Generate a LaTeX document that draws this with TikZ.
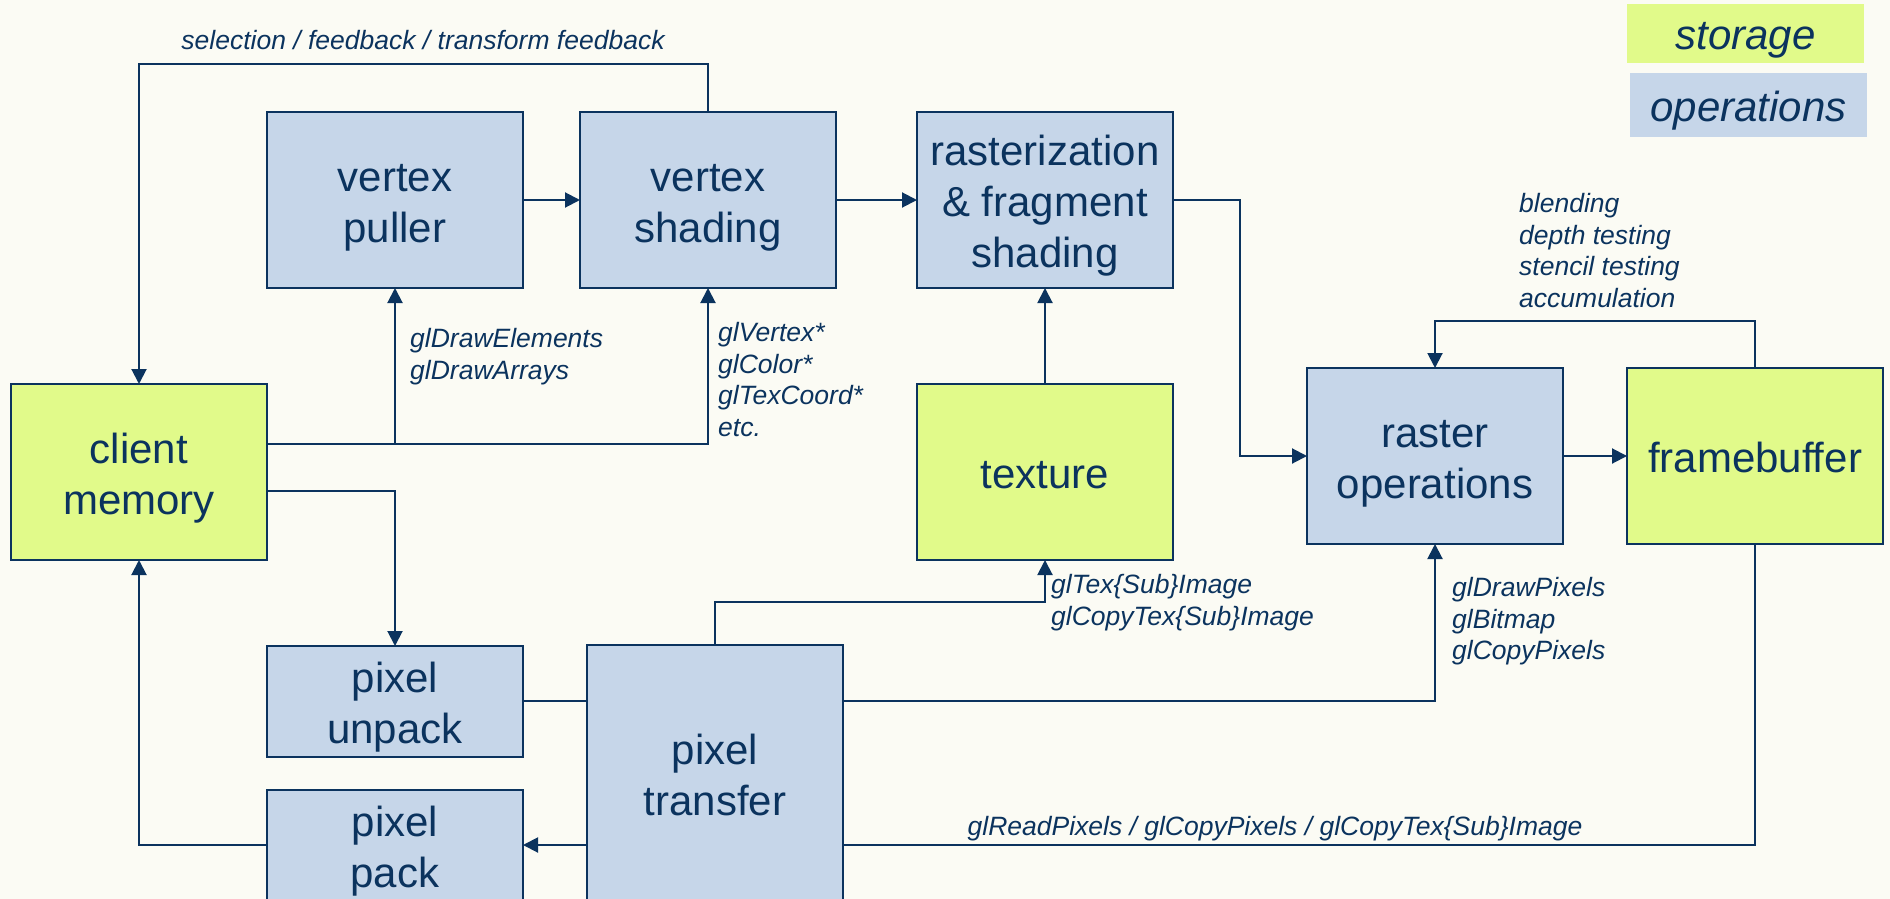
\documentclass[tikz,border=0pt]{standalone}
\usepackage{fontspec}
\setmainfont{Liberation Sans}
\usetikzlibrary{arrows.meta}

\definecolor{ink}{HTML}{0B335E}
\definecolor{opfill}{HTML}{C6D6E9}
\definecolor{stfill}{HTML}{E1FA8A}
\definecolor{paper}{HTML}{FBFBF4}

% fonts for boxes and for the italic call labels
\newcommand\boxfont{\fontsize{42}{51}\selectfont\lineskiplimit=-100pt\relax}
\newcommand\lblfont{\fontsize{26.5}{31.8}\selectfont\itshape}
% struts that fix the vertical placement of text lines
\newcommand\bst{\rule[-10pt]{0pt}{53pt}}
\newcommand\lst{\rule[-8pt]{0pt}{28pt}}

\begin{document}
\begin{tikzpicture}[x=1pt,y=-1pt,
  box/.style={draw=ink, line width=2.4pt, inner sep=0pt, outer sep=0pt,
              minimum width=256pt, align=center, text=ink, font=\boxfont},
  opbox/.style={box, fill=opfill},
  stbox/.style={box, fill=stfill},
  key/.style={inner sep=0pt, outer sep=0pt, minimum width=237pt,
              text=ink, font=\boxfont\itshape},
  lbl/.style={inner sep=0pt, anchor=north west, align=left, text=ink, font=\lblfont},
  conn/.style={draw=ink, line width=2pt},
  arr/.style={-{Triangle[length=15pt,width=15pt]}}]

\fill[paper] (0,0) rectangle (1890,899);
\useasboundingbox (0,0) rectangle (1890,899);

% legend
\node[key, fill=stfill, minimum height=59pt] (kst) at (1745.5,33.5) {\bst storage};
\node[key, fill=opfill, minimum height=64pt] (kop) at (1748.5,105) {\bst operations};

% pipeline stages
\node[opbox, minimum height=176pt] (vp) at (395,200)  {\bst vertex\\\bst puller};
\node[opbox, minimum height=176pt] (vs) at (708,200)  {\bst vertex\\\bst shading};
\node[opbox, minimum height=176pt] (rf) at (1045,200) {\bst rasterization\\\bst \& fragment\\\bst shading};
\node[stbox, minimum height=176pt] (cm) at (139,472)  {\bst client\\\bst memory};
\node[stbox, minimum height=176pt] (tex) at (1045,472) {\bst texture};
\node[opbox, minimum height=176pt] (ro) at (1435,456) {\bst raster\\\bst operations};
\node[stbox, minimum height=176pt] (fb) at (1755,456) {\bst framebuffer};
\node[opbox, minimum height=111pt] (pu) at (395,701.5) {\bst pixel\\\bst unpack};
\node[opbox, minimum height=111pt] (pp) at (395,845.5) {\bst pixel\\\bst pack};
\node[opbox, minimum height=257pt] (pt) at (715,773.5) {\bst pixel\\\bst transfer};

% routing levels
\coordinate (ytop) at (0,64);
\coordinate (ycm)  at (0,444);
\coordinate (yun)  at (0,491);
\coordinate (ytx)  at (0,602);
\coordinate (ypix) at (0,701);
\coordinate (yrd)  at (0,845);
\coordinate (yfb)  at (0,321);
\coordinate (xrf)  at (1240,0);

% connectors
\draw[conn,arr] (vs.north) -- (vs.north |- ytop) -- (cm.north |- ytop) -- (cm.north);
\draw[conn,arr] (vp) -- (vs);
\draw[conn,arr] (vs) -- (rf);
\draw[conn,arr] (cm.east |- ycm) -| (vs.south);
\draw[conn,arr] (vp.south |- ycm) -- (vp.south);
\draw[conn,arr] (cm.east |- yun) -| (pu.north);
\draw[conn,arr] (pp.west |- yrd) -| (cm.south);
\draw[conn] (pu.east |- ypix) -- (pt.west |- ypix);
\draw[conn,arr] (pt.west |- yrd) -- (pp.east |- yrd);
\draw[conn,arr] (pt.north) |- (tex.south |- ytx) -- (tex.south);
\draw[conn,arr] (pt.east |- ypix) -| (ro.south);
\draw[conn] (fb.south) |- (pt.east |- yrd);
\draw[conn,arr] (rf.east) -- (xrf |- rf.east) |- (ro.west);
\draw[conn,arr] (ro) -- (fb);
\draw[conn,arr] (fb.north) |- (ro.north |- yfb) -- (ro.north);
\draw[conn,arr] (tex) -- (rf);

% labels
\node[lbl, anchor=base] (lsel) at (423,50) {selection / feedback / transform feedback};
\node[lbl] (ldraw) at (410,327) {\lst glDrawElements\\glDrawArrays};
\node[lbl] (lvert) at (718,321) {\lst glVertex*\\glColor*\\glTexCoord*\\etc.};
\node[lbl] (lrop)  at (1519,192) {\lst blending\\depth testing\\stencil testing\\accumulation};
\node[lbl] (ltex)  at (1051,573) {\lst glTex\{Sub\}Image\\glCopyTex\{Sub\}Image};
\node[lbl] (lpix)  at (1452,576) {\lst glDrawPixels\\glBitmap\\glCopyPixels};
\node[lbl, anchor=base] (lread) at (1275,835) {glReadPixels / glCopyPixels / glCopyTex\{Sub\}Image};
\end{tikzpicture}
\end{document}
